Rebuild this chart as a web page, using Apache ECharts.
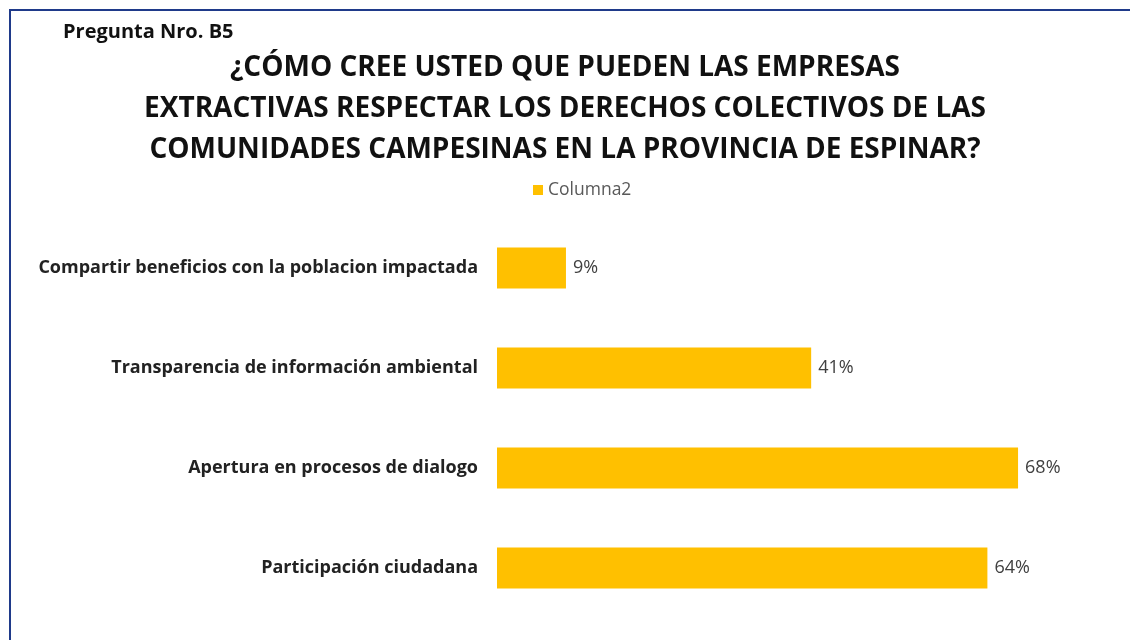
<!DOCTYPE html>
<html>
<head>
<meta charset="utf-8">
<script src="https://cdn.jsdelivr.net/npm/echarts@6/dist/echarts.min.js"></script>
<style>
  html, body { margin: 0; padding: 0; background: #ffffff; }
  #chart { width: 1130px; height: 640px; }
</style>
</head>
<body>
<div id="chart"></div>
<script>
// Survey answers, top to bottom
const categories = [
  'Compartir beneficios con la poblacion impactada',
  'Transparencia de información ambiental',
  'Apertura en procesos de dialogo',
  'Participación ciudadana'
];
const values = [9, 41, 68, 64];
const seriesName = 'Columna2';
const subTitle = 'Pregunta Nro. B5';
const titleLines = [
  '¿CÓMO CREE USTED QUE PUEDEN LAS EMPRESAS',
  'EXTRACTIVAS RESPECTAR LOS DERECHOS COLECTIVOS DE LAS',
  'COMUNIDADES CAMPESINAS EN LA PROVINCIA DE ESPINAR?'
];

const FONT = '"Open Sans", sans-serif';
const chart = echarts.init(document.getElementById('chart'), null, { renderer: 'canvas' });

// one centred title per heading line
const headingTitles = titleLines.map((line, i) => ({
  text: line,
  left: 'center',
  top: 49 + i * 41,
  textStyle: { fontFamily: FONT, fontWeight: 'bold', fontSize: 28, color: '#111111' }
}));

chart.setOption({
  backgroundColor: '#ffffff',
  animation: false,
  graphic: [
    {
      type: 'rect',
      shape: { x: 10, y: 10, width: 1140, height: 660 },
      style: { fill: 'none', stroke: '#1f3a8a', lineWidth: 2 },
      silent: true
    }
  ],
  title: [
    {
      text: subTitle,
      left: 58,
      top: 17,
      textStyle: { fontFamily: FONT, fontWeight: 'bold', fontSize: 20, color: '#111111' }
    }
  ].concat(headingTitles),
  legend: {
    data: [seriesName],
    top: 176,
    left: 528,
    icon: 'rect',
    itemWidth: 10,
    itemHeight: 10,
    itemGap: 6,
    textStyle: { fontFamily: FONT, fontSize: 17.5, color: '#595959' }
  },
  grid: { left: 497, right: 20, top: 218, bottom: 22, containLabel: false },
  xAxis: {
    type: 'value',
    min: 0,
    max: 80,
    show: false
  },
  yAxis: {
    type: 'category',
    data: categories,
    inverse: true,
    axisLine: { show: false },
    axisTick: { show: false },
    axisLabel: {
      margin: 19,
      fontFamily: FONT,
      fontWeight: 'bold',
      fontSize: 18,
      color: '#222222'
    }
  },
  series: [
    {
      name: seriesName,
      type: 'bar',
      data: values,
      barCategoryGap: '59%',
      itemStyle: { color: '#ffc000' },
      label: {
        show: true,
        position: 'right',
        distance: 7,
        formatter: '{c}%',
        fontFamily: FONT,
        fontSize: 18,
        color: '#404040'
      }
    }
  ]
});
</script>
</body>
</html>
